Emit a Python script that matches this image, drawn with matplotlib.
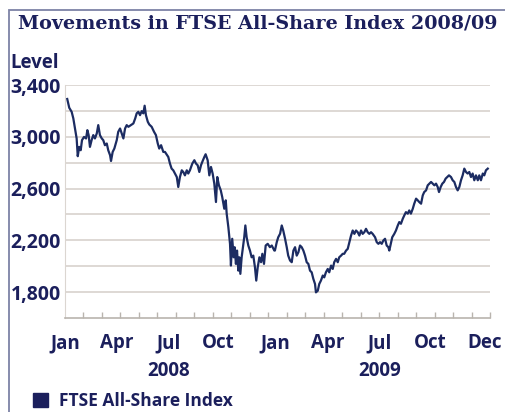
import matplotlib
matplotlib.use("Agg")
import matplotlib.pyplot as plt
import matplotlib.transforms as mtransforms
from matplotlib.patches import Patch, Rectangle

# FTSE All-Share level, x = months since 1 Jan 2008
months = [
    0.12, 0.23, 0.36, 0.45, 0.54, 0.63, 0.69, 0.77, 0.85, 0.92, 1.03, 1.14, 1.21, 1.28, 1.35,
    1.44, 1.53, 1.62, 1.72, 1.80, 1.89, 1.99, 2.07, 2.16, 2.26, 2.34, 2.44, 2.49, 2.58, 2.67,
    2.80, 2.88, 2.98, 3.07, 3.16, 3.25, 3.34, 3.43, 3.56, 3.70, 3.80, 3.88, 3.97, 4.06, 4.15,
    4.24, 4.31, 4.38, 4.48, 4.56, 4.69, 4.82, 4.92, 5.02, 5.10, 5.20, 5.32,
    5.41, 5.59, 5.68, 5.77, 5.86, 5.95, 6.05, 6.13, 6.22, 6.32, 6.40, 6.49, 6.59, 6.67, 6.76,
    6.89, 7.00, 7.09, 7.18, 7.27, 7.36, 7.43, 7.54, 7.61, 7.72, 7.81, 7.90, 7.99, 8.08, 8.17,
    8.24, 8.33, 8.43, 8.51, 8.62, 8.70, 8.75, 8.84, 8.93, 8.98, 9.05, 9.13, 9.18, 9.25, 9.31,
    9.38, 9.43, 9.49, 9.56, 9.63, 9.70, 9.76, 9.83, 9.92, 10.01, 10.10, 10.19, 10.28, 10.35,
    10.43, 10.52, 10.61, 10.68, 10.77, 10.86, 10.97, 11.09, 11.19, 11.33,
    11.36, 11.46, 11.54, 11.64, 11.73, 11.81, 11.91, 12.00, 12.08, 12.18, 12.27, 12.36, 12.45,
    12.54, 12.63, 12.72, 12.81, 12.90, 12.99, 13.08, 13.17, 13.26, 13.35, 13.44, 13.53, 13.58,
    13.68, 13.76, 13.85, 13.95, 14.03, 14.12, 14.22, 14.30, 14.40, 14.49, 14.57, 14.67, 14.76,
    14.84, 14.94, 15.03, 15.11, 15.21, 15.30, 15.39, 15.48, 15.57, 15.66, 15.75, 15.84, 15.93,
    16.02, 16.11, 16.20, 16.29, 16.38, 16.47, 16.56, 16.65, 16.78, 16.87, 16.96,
    17.05, 17.14, 17.23, 17.32, 17.41, 17.50, 17.55, 17.63, 17.71, 17.82, 17.91, 18.01, 18.09,
    18.18, 18.28, 18.36, 18.45, 18.55, 18.63, 18.72, 18.82, 18.90, 19.00, 19.09, 19.17, 19.27,
    19.36, 19.44, 19.54, 19.63, 19.72, 19.81, 19.90, 19.99, 20.08, 20.17, 20.24, 20.33, 20.42,
    20.51, 20.60, 20.69, 20.78, 20.89, 20.98, 21.07, 21.16, 21.25, 21.34, 21.43, 21.52, 21.61,
    21.70, 21.79, 21.88, 21.97, 22.06, 22.15, 22.24, 22.34, 22.42, 22.51, 22.61, 22.69, 22.78,
    22.88,
]
levels = [
    3292, 3224, 3193, 3142, 3064, 2987, 2850, 2922, 2896, 2974, 2999, 2987, 3051, 3013, 2922,
    2974, 3013, 2987, 3026, 3090, 3013, 2987, 2974, 2935, 2948, 2896, 2857, 2813, 2883, 2909,
    2974, 3038, 3064, 3026, 2987, 3064, 3090, 3077, 3090, 3103, 3142, 3181, 3193, 3167, 3198,
    3181, 3240, 3167, 3116, 3095, 3077, 3038, 3013, 2948, 2909, 2935, 2883,
    2883, 2844, 2793, 2754, 2741, 2716, 2689, 2612, 2689, 2741, 2728, 2702, 2741, 2716, 2741,
    2793, 2819, 2793, 2780, 2728, 2780, 2806, 2844, 2865, 2819, 2702, 2767, 2716, 2638, 2496,
    2689, 2625, 2586, 2534, 2444, 2509, 2406, 2302, 2173, 2005, 2212, 2069, 2147, 2018, 2121,
    1966, 2069, 1941, 2069, 2147, 2224, 2315, 2224, 2160, 2121, 2069, 2082, 1992, 1889,
    1992, 2069, 2031, 2096, 2018, 2160, 2173, 2147, 2160, 2121,
    2121, 2186, 2224, 2251, 2315, 2276, 2212, 2147, 2082, 2044, 2031, 2121, 2147,
    2082, 2108, 2160, 2147, 2121, 2082, 2031, 2018, 1966, 1953, 1902, 1863, 1798,
    1811, 1863, 1889, 1928, 1914, 1953, 1979, 1953, 2005, 1979, 2031, 2057, 2031,
    2069, 2082, 2096, 2096, 2121, 2134, 2186, 2237, 2276, 2250, 2276, 2263, 2237,
    2276, 2250, 2263, 2289, 2263, 2250, 2263, 2250, 2224, 2186, 2173,
    2186, 2173, 2199, 2212, 2160, 2147, 2121, 2173, 2224, 2250, 2276, 2315, 2341,
    2328, 2367, 2392, 2418, 2406, 2431, 2406, 2444, 2483, 2522, 2509, 2496, 2483,
    2547, 2573, 2586, 2625, 2638, 2651, 2638, 2625, 2638, 2612, 2573, 2612, 2638,
    2651, 2677, 2689, 2702, 2689, 2664, 2651, 2612, 2586, 2612, 2664, 2702, 2754,
    2728, 2716, 2728, 2689, 2716, 2664, 2702, 2664, 2702, 2664, 2716, 2702, 2741,
    2754,
]

month_labels = ["Jan", "Apr", "Jul", "Oct", "Jan", "Apr", "Jul", "Oct", "Dec"]
label_pos = [0.0, 2.8, 5.6, 8.3, 11.4, 14.2, 17.05, 19.75, 22.7]
years = ["2008", "2009"]
year_pos = [5.6, 17.05]
y_labels = [1800, 2200, 2600, 3000, 3400]
y_grid = [1800, 2000, 2200, 2400, 2600, 2800, 3000, 3200, 3400]

navy = "#1b1f5c"
line_col = "#1c2c62"
grid_col = "#dbd6d1"
axis_col = "#b9b4ae"
frame_col = "#7d82a6"
font = "Open Sans"

W, H = 505, 412
fig = plt.figure(figsize=(W / 100, H / 100), dpi=100)
ax = fig.add_axes([65 / W, 1 - 318 / H, 425 / W, 233 / H])

ax.plot(months, levels, color=line_col, lw=1.6, solid_joinstyle="round")

ax.set_xlim(0, 23)
ax.set_ylim(1600, 3400)

# gridlines
for g in y_grid:
    ax.axhline(g, color=grid_col, lw=1.3, zorder=0)

ax.set_yticks(y_labels)
ax.set_yticklabels([f"{v:,}" for v in y_labels])
ax.tick_params(axis="y", length=0, pad=3, labelsize=14, labelcolor=navy)

ax.set_xticks(label_pos)
ax.set_xticklabels(month_labels)
ax.set_xticks(range(1, 24), minor=True)
ax.tick_params(axis="x", which="major", length=0, pad=11, labelsize=13.5, labelcolor=navy)
ax.tick_params(axis="x", which="minor", direction="in", length=4, width=1, color=axis_col)

for lab in ax.get_xticklabels() + ax.get_yticklabels():
    lab.set_fontfamily(font)
    lab.set_fontweight("bold")

for s in ["top", "right"]:
    ax.spines[s].set_visible(False)
ax.spines["left"].set_color(grid_col)
ax.spines["bottom"].set_color(axis_col)
ax.spines["bottom"].set_linewidth(1.2)

trans = mtransforms.blended_transform_factory(ax.transData, fig.transFigure)
for yr, xp in zip(years, year_pos):
    ax.text(xp, 1 - 371 / H, yr, transform=trans, ha="center", va="center",
            fontsize=13.5, fontweight="bold", color=navy, family=font)

fig.text(18 / W, 1 - 23 / H, "Movements in FTSE All-Share Index 2008/09", ha="left",
         va="center", fontsize=13.8, fontweight="bold", color=navy, family="DejaVu Serif")
fig.text(10 / W, 1 - 63 / H, "Level", ha="left", va="center", fontsize=13.5,
         fontweight="bold", color=navy, family=font)

# frame around the panel (top and left edges visible)
fig.patches.append(Rectangle((9 / W, -0.1), 1.2, 1.1 - 10 / H, transform=fig.transFigure,
                             fill=False, edgecolor=frame_col, lw=1.3))

leg = fig.legend(handles=[Patch(color=navy)], labels=["FTSE All-Share Index"],
                 loc="center left", bbox_to_anchor=(17 / W, 1 - 401 / H), frameon=False,
                 handlelength=0.9, handleheight=0.9, handletextpad=0.6,
                 prop={"family": font, "weight": "bold", "size": 12.5})
for t in leg.get_texts():
    t.set_color(navy)

fig.savefig("out.png", dpi=100)
